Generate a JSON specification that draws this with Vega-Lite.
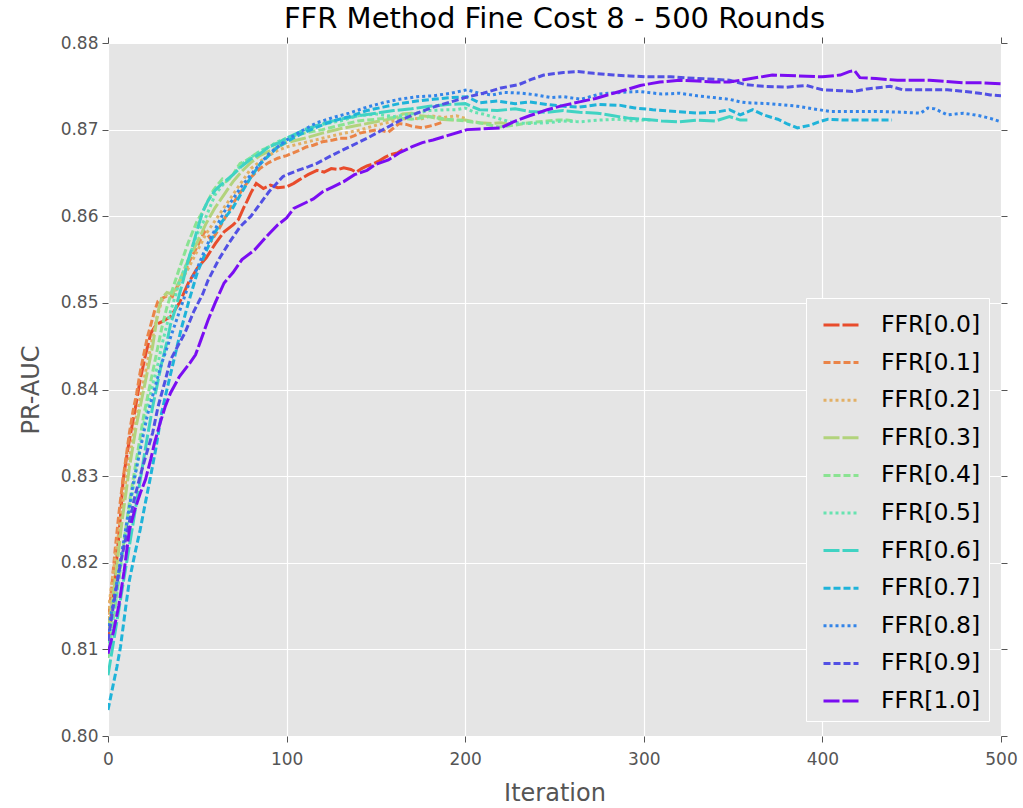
{
"$schema": "https://vega.github.io/schema/vega-lite/v6.json",
"width": 893, "height": 693,
"autosize": {"type": "none"},
"padding": {"left": 108, "top": 43, "right": 22, "bottom": 72},
"background": "white",
"title": {"text": "FFR Method Fine Cost 8 - 500 Rounds", "fontSize": 29, "fontWeight": "normal", "color": "#000000", "anchor": "middle", "offset": 0, "font": "DejaVu Sans"},
"config": {
 "view": {"fill": "#e5e5e5", "stroke": null},
 "font": "DejaVu Sans",
 "axis": {"labelFont": "DejaVu Sans", "labelFontSize": 17, "labelColor": "#555555", "labelFlush": false, "titleFont": "DejaVu Sans", "titleFontSize": 24, "titleColor": "#555555", "titleFontWeight": "normal", "gridColor": "#ffffff", "gridWidth": 1.2, "domain": false, "tickColor": "#555555", "tickSize": 6, "tickWidth": 1},
 "legend": {"orient": "none", "legendX": 698, "legendY": 255, "title": null, "symbolType": "stroke", "symbolSize": 1225, "symbolStrokeWidth": 3, "labelFontSize": 23.5, "labelFont": "DejaVu Sans", "labelColor": "#000000", "padding": 8, "symbolOffset": 8, "fillColor": "#e5e5e5", "strokeColor": "#ffffff", "labelOffset": 21, "rowPadding": 6.6, "symbolOpacity": 1}
},
"data": {"values": [
{"s":"FFR[0.0]","x":0,"y":0.811},{"s":"FFR[0.0]","x":3,"y":0.816},{"s":"FFR[0.0]","x":6.5,"y":0.8241},{"s":"FFR[0.0]","x":8.5,"y":0.8296},{"s":"FFR[0.0]","x":11,"y":0.833},{"s":"FFR[0.0]","x":13,"y":0.8353},{"s":"FFR[0.0]","x":15,"y":0.8375},{"s":"FFR[0.0]","x":18,"y":0.8411},{"s":"FFR[0.0]","x":21,"y":0.844},{"s":"FFR[0.0]","x":24,"y":0.8465},{"s":"FFR[0.0]","x":27,"y":0.8475},{"s":"FFR[0.0]","x":30,"y":0.8478},{"s":"FFR[0.0]","x":35,"y":0.8484},{"s":"FFR[0.0]","x":40,"y":0.85},{"s":"FFR[0.0]","x":45,"y":0.8523},{"s":"FFR[0.0]","x":50,"y":0.854},{"s":"FFR[0.0]","x":55,"y":0.8552},{"s":"FFR[0.0]","x":60,"y":0.8568},{"s":"FFR[0.0]","x":65,"y":0.8582},{"s":"FFR[0.0]","x":70,"y":0.859},{"s":"FFR[0.0]","x":73,"y":0.8596},{"s":"FFR[0.0]","x":76,"y":0.861},{"s":"FFR[0.0]","x":78,"y":0.8618},{"s":"FFR[0.0]","x":80,"y":0.8627},{"s":"FFR[0.0]","x":83,"y":0.8638},{"s":"FFR[0.0]","x":87,"y":0.8632},{"s":"FFR[0.0]","x":91,"y":0.8636},{"s":"FFR[0.0]","x":95,"y":0.8633},{"s":"FFR[0.0]","x":100,"y":0.8634},{"s":"FFR[0.0]","x":104,"y":0.8638},{"s":"FFR[0.0]","x":107,"y":0.8642},{"s":"FFR[0.0]","x":112,"y":0.8648},{"s":"FFR[0.0]","x":117,"y":0.8653},{"s":"FFR[0.0]","x":121,"y":0.8651},{"s":"FFR[0.0]","x":125,"y":0.8655},{"s":"FFR[0.0]","x":129,"y":0.8654},{"s":"FFR[0.0]","x":132,"y":0.8656},{"s":"FFR[0.0]","x":136,"y":0.8654},{"s":"FFR[0.0]","x":139,"y":0.8651},{"s":"FFR[0.0]","x":142,"y":0.8655},{"s":"FFR[0.0]","x":145,"y":0.8658},{"s":"FFR[0.0]","x":148,"y":0.866},{"s":"FFR[0.0]","x":151,"y":0.8663},{"s":"FFR[0.0]","x":155,"y":0.8668},{"s":"FFR[0.0]","x":158,"y":0.8671},{"s":"FFR[0.0]","x":162,"y":0.8673},{"s":"FFR[0.0]","x":165,"y":0.8677},
{"s":"FFR[0.1]","x":0,"y":0.813},{"s":"FFR[0.1]","x":2,"y":0.817},{"s":"FFR[0.1]","x":4,"y":0.8215},{"s":"FFR[0.1]","x":6,"y":0.8255},{"s":"FFR[0.1]","x":8,"y":0.829},{"s":"FFR[0.1]","x":10,"y":0.832},{"s":"FFR[0.1]","x":12,"y":0.835},{"s":"FFR[0.1]","x":14,"y":0.8375},{"s":"FFR[0.1]","x":16,"y":0.8395},{"s":"FFR[0.1]","x":18,"y":0.842},{"s":"FFR[0.1]","x":20,"y":0.844},{"s":"FFR[0.1]","x":22,"y":0.846},{"s":"FFR[0.1]","x":24,"y":0.8475},{"s":"FFR[0.1]","x":26,"y":0.849},{"s":"FFR[0.1]","x":28,"y":0.8502},{"s":"FFR[0.1]","x":30,"y":0.8505},{"s":"FFR[0.1]","x":33,"y":0.8508},{"s":"FFR[0.1]","x":36,"y":0.8507},{"s":"FFR[0.1]","x":38,"y":0.8515},{"s":"FFR[0.1]","x":40,"y":0.8525},{"s":"FFR[0.1]","x":43,"y":0.8535},{"s":"FFR[0.1]","x":46,"y":0.855},{"s":"FFR[0.1]","x":50,"y":0.8565},{"s":"FFR[0.1]","x":54,"y":0.8582},{"s":"FFR[0.1]","x":56,"y":0.8578},{"s":"FFR[0.1]","x":58,"y":0.8572},{"s":"FFR[0.1]","x":62,"y":0.8585},{"s":"FFR[0.1]","x":66,"y":0.86},{"s":"FFR[0.1]","x":70,"y":0.8615},{"s":"FFR[0.1]","x":75,"y":0.863},{"s":"FFR[0.1]","x":80,"y":0.8645},{"s":"FFR[0.1]","x":85,"y":0.8655},{"s":"FFR[0.1]","x":90,"y":0.8662},{"s":"FFR[0.1]","x":95,"y":0.8667},{"s":"FFR[0.1]","x":100,"y":0.867},{"s":"FFR[0.1]","x":107,"y":0.8676},{"s":"FFR[0.1]","x":111,"y":0.868},{"s":"FFR[0.1]","x":115,"y":0.8682},{"s":"FFR[0.1]","x":120,"y":0.8686},{"s":"FFR[0.1]","x":126,"y":0.8688},{"s":"FFR[0.1]","x":130,"y":0.869},{"s":"FFR[0.1]","x":134,"y":0.869},{"s":"FFR[0.1]","x":138,"y":0.8693},{"s":"FFR[0.1]","x":141,"y":0.8696},{"s":"FFR[0.1]","x":146,"y":0.8698},{"s":"FFR[0.1]","x":151,"y":0.87},{"s":"FFR[0.1]","x":157,"y":0.8697},{"s":"FFR[0.1]","x":163,"y":0.8707},{"s":"FFR[0.1]","x":167,"y":0.8706},{"s":"FFR[0.1]","x":170,"y":0.8704},{"s":"FFR[0.1]","x":176,"y":0.8702},{"s":"FFR[0.1]","x":182,"y":0.8705},{"s":"FFR[0.1]","x":188,"y":0.8709},
{"s":"FFR[0.2]","x":0,"y":0.814},{"s":"FFR[0.2]","x":2,"y":0.8175},{"s":"FFR[0.2]","x":4,"y":0.8205},{"s":"FFR[0.2]","x":6,"y":0.8235},{"s":"FFR[0.2]","x":8,"y":0.8265},{"s":"FFR[0.2]","x":10,"y":0.8295},{"s":"FFR[0.2]","x":12,"y":0.832},{"s":"FFR[0.2]","x":14,"y":0.8345},{"s":"FFR[0.2]","x":16,"y":0.837},{"s":"FFR[0.2]","x":18,"y":0.839},{"s":"FFR[0.2]","x":20,"y":0.841},{"s":"FFR[0.2]","x":22,"y":0.843},{"s":"FFR[0.2]","x":24,"y":0.845},{"s":"FFR[0.2]","x":27,"y":0.848},{"s":"FFR[0.2]","x":30,"y":0.8502},{"s":"FFR[0.2]","x":33,"y":0.851},{"s":"FFR[0.2]","x":36,"y":0.8512},{"s":"FFR[0.2]","x":38,"y":0.8515},{"s":"FFR[0.2]","x":40,"y":0.8522},{"s":"FFR[0.2]","x":45,"y":0.854},{"s":"FFR[0.2]","x":50,"y":0.856},{"s":"FFR[0.2]","x":55,"y":0.858},{"s":"FFR[0.2]","x":60,"y":0.8595},{"s":"FFR[0.2]","x":65,"y":0.861},{"s":"FFR[0.2]","x":70,"y":0.8625},{"s":"FFR[0.2]","x":75,"y":0.864},{"s":"FFR[0.2]","x":80,"y":0.8655},{"s":"FFR[0.2]","x":85,"y":0.8663},{"s":"FFR[0.2]","x":90,"y":0.867},{"s":"FFR[0.2]","x":95,"y":0.8676},{"s":"FFR[0.2]","x":100,"y":0.868},{"s":"FFR[0.2]","x":110,"y":0.8685},{"s":"FFR[0.2]","x":120,"y":0.869},{"s":"FFR[0.2]","x":130,"y":0.8695},{"s":"FFR[0.2]","x":140,"y":0.8699},{"s":"FFR[0.2]","x":150,"y":0.8705},{"s":"FFR[0.2]","x":160,"y":0.871},{"s":"FFR[0.2]","x":170,"y":0.8714},{"s":"FFR[0.2]","x":175,"y":0.8712},{"s":"FFR[0.2]","x":180,"y":0.8716},{"s":"FFR[0.2]","x":188,"y":0.8714},{"s":"FFR[0.2]","x":195,"y":0.8716},{"s":"FFR[0.2]","x":200,"y":0.8713},
{"s":"FFR[0.3]","x":0,"y":0.812},{"s":"FFR[0.3]","x":2,"y":0.815},{"s":"FFR[0.3]","x":4,"y":0.818},{"s":"FFR[0.3]","x":6,"y":0.8215},{"s":"FFR[0.3]","x":8,"y":0.825},{"s":"FFR[0.3]","x":10,"y":0.828},{"s":"FFR[0.3]","x":12,"y":0.831},{"s":"FFR[0.3]","x":14,"y":0.8335},{"s":"FFR[0.3]","x":16,"y":0.836},{"s":"FFR[0.3]","x":18,"y":0.838},{"s":"FFR[0.3]","x":20,"y":0.84},{"s":"FFR[0.3]","x":22,"y":0.842},{"s":"FFR[0.3]","x":25,"y":0.845},{"s":"FFR[0.3]","x":28,"y":0.849},{"s":"FFR[0.3]","x":30,"y":0.8505},{"s":"FFR[0.3]","x":33,"y":0.8512},{"s":"FFR[0.3]","x":36,"y":0.851},{"s":"FFR[0.3]","x":40,"y":0.8525},{"s":"FFR[0.3]","x":45,"y":0.855},{"s":"FFR[0.3]","x":50,"y":0.857},{"s":"FFR[0.3]","x":55,"y":0.8592},{"s":"FFR[0.3]","x":60,"y":0.861},{"s":"FFR[0.3]","x":65,"y":0.8625},{"s":"FFR[0.3]","x":70,"y":0.864},{"s":"FFR[0.3]","x":75,"y":0.8652},{"s":"FFR[0.3]","x":80,"y":0.8662},{"s":"FFR[0.3]","x":85,"y":0.867},{"s":"FFR[0.3]","x":90,"y":0.8675},{"s":"FFR[0.3]","x":100,"y":0.8685},{"s":"FFR[0.3]","x":110,"y":0.869},{"s":"FFR[0.3]","x":120,"y":0.8696},{"s":"FFR[0.3]","x":130,"y":0.8701},{"s":"FFR[0.3]","x":140,"y":0.8705},{"s":"FFR[0.3]","x":150,"y":0.8709},{"s":"FFR[0.3]","x":160,"y":0.8713},{"s":"FFR[0.3]","x":165,"y":0.8718},{"s":"FFR[0.3]","x":170,"y":0.8719},{"s":"FFR[0.3]","x":175,"y":0.8716},{"s":"FFR[0.3]","x":180,"y":0.8715},{"s":"FFR[0.3]","x":186,"y":0.8712},{"s":"FFR[0.3]","x":192,"y":0.8711},{"s":"FFR[0.3]","x":200,"y":0.8711},{"s":"FFR[0.3]","x":208,"y":0.8708},{"s":"FFR[0.3]","x":215,"y":0.8707},{"s":"FFR[0.3]","x":220,"y":0.8708},{"s":"FFR[0.3]","x":225,"y":0.8706},
{"s":"FFR[0.4]","x":0,"y":0.809},{"s":"FFR[0.4]","x":2,"y":0.812},{"s":"FFR[0.4]","x":4,"y":0.815},{"s":"FFR[0.4]","x":6,"y":0.818},{"s":"FFR[0.4]","x":8,"y":0.821},{"s":"FFR[0.4]","x":10,"y":0.824},{"s":"FFR[0.4]","x":12,"y":0.827},{"s":"FFR[0.4]","x":14,"y":0.8295},{"s":"FFR[0.4]","x":16,"y":0.832},{"s":"FFR[0.4]","x":18,"y":0.8345},{"s":"FFR[0.4]","x":20,"y":0.837},{"s":"FFR[0.4]","x":22,"y":0.839},{"s":"FFR[0.4]","x":25,"y":0.842},{"s":"FFR[0.4]","x":28,"y":0.845},{"s":"FFR[0.4]","x":30,"y":0.847},{"s":"FFR[0.4]","x":33,"y":0.8495},{"s":"FFR[0.4]","x":36,"y":0.8515},{"s":"FFR[0.4]","x":40,"y":0.854},{"s":"FFR[0.4]","x":45,"y":0.857},{"s":"FFR[0.4]","x":50,"y":0.8595},{"s":"FFR[0.4]","x":53,"y":0.8605},{"s":"FFR[0.4]","x":56,"y":0.8618},{"s":"FFR[0.4]","x":59,"y":0.863},{"s":"FFR[0.4]","x":62,"y":0.8638},{"s":"FFR[0.4]","x":64,"y":0.8643},{"s":"FFR[0.4]","x":66,"y":0.864},{"s":"FFR[0.4]","x":68,"y":0.8643},{"s":"FFR[0.4]","x":70,"y":0.8648},{"s":"FFR[0.4]","x":72,"y":0.8655},{"s":"FFR[0.4]","x":74,"y":0.8661},{"s":"FFR[0.4]","x":78,"y":0.8665},{"s":"FFR[0.4]","x":82,"y":0.8671},{"s":"FFR[0.4]","x":86,"y":0.8676},{"s":"FFR[0.4]","x":90,"y":0.868},{"s":"FFR[0.4]","x":95,"y":0.8685},{"s":"FFR[0.4]","x":100,"y":0.869},{"s":"FFR[0.4]","x":105,"y":0.8693},{"s":"FFR[0.4]","x":110,"y":0.8696},{"s":"FFR[0.4]","x":115,"y":0.8698},{"s":"FFR[0.4]","x":120,"y":0.87},{"s":"FFR[0.4]","x":130,"y":0.8705},{"s":"FFR[0.4]","x":140,"y":0.871},{"s":"FFR[0.4]","x":150,"y":0.8712},{"s":"FFR[0.4]","x":160,"y":0.8714},{"s":"FFR[0.4]","x":170,"y":0.8712},{"s":"FFR[0.4]","x":180,"y":0.8715},{"s":"FFR[0.4]","x":190,"y":0.8712},{"s":"FFR[0.4]","x":200,"y":0.871},{"s":"FFR[0.4]","x":210,"y":0.8707},{"s":"FFR[0.4]","x":219,"y":0.8703},{"s":"FFR[0.4]","x":227,"y":0.8705},{"s":"FFR[0.4]","x":236,"y":0.8708},{"s":"FFR[0.4]","x":246,"y":0.871},{"s":"FFR[0.4]","x":252,"y":0.8711},{"s":"FFR[0.4]","x":257,"y":0.8711},{"s":"FFR[0.4]","x":262,"y":0.871},
{"s":"FFR[0.5]","x":0,"y":0.81},{"s":"FFR[0.5]","x":2,"y":0.8125},{"s":"FFR[0.5]","x":4,"y":0.815},{"s":"FFR[0.5]","x":6,"y":0.818},{"s":"FFR[0.5]","x":8,"y":0.821},{"s":"FFR[0.5]","x":10,"y":0.8235},{"s":"FFR[0.5]","x":12,"y":0.826},{"s":"FFR[0.5]","x":14,"y":0.8285},{"s":"FFR[0.5]","x":16,"y":0.831},{"s":"FFR[0.5]","x":18,"y":0.8335},{"s":"FFR[0.5]","x":20,"y":0.836},{"s":"FFR[0.5]","x":22,"y":0.838},{"s":"FFR[0.5]","x":25,"y":0.8405},{"s":"FFR[0.5]","x":28,"y":0.843},{"s":"FFR[0.5]","x":30,"y":0.845},{"s":"FFR[0.5]","x":33,"y":0.8475},{"s":"FFR[0.5]","x":35,"y":0.849},{"s":"FFR[0.5]","x":38,"y":0.851},{"s":"FFR[0.5]","x":40,"y":0.8525},{"s":"FFR[0.5]","x":45,"y":0.855},{"s":"FFR[0.5]","x":50,"y":0.858},{"s":"FFR[0.5]","x":55,"y":0.86},{"s":"FFR[0.5]","x":60,"y":0.8625},{"s":"FFR[0.5]","x":65,"y":0.8638},{"s":"FFR[0.5]","x":70,"y":0.8648},{"s":"FFR[0.5]","x":75,"y":0.866},{"s":"FFR[0.5]","x":80,"y":0.8668},{"s":"FFR[0.5]","x":85,"y":0.8675},{"s":"FFR[0.5]","x":90,"y":0.868},{"s":"FFR[0.5]","x":95,"y":0.8686},{"s":"FFR[0.5]","x":100,"y":0.869},{"s":"FFR[0.5]","x":110,"y":0.8698},{"s":"FFR[0.5]","x":120,"y":0.8706},{"s":"FFR[0.5]","x":130,"y":0.871},{"s":"FFR[0.5]","x":140,"y":0.8716},{"s":"FFR[0.5]","x":150,"y":0.8718},{"s":"FFR[0.5]","x":160,"y":0.8715},{"s":"FFR[0.5]","x":170,"y":0.8718},{"s":"FFR[0.5]","x":180,"y":0.8722},{"s":"FFR[0.5]","x":190,"y":0.8723},{"s":"FFR[0.5]","x":195,"y":0.8723},{"s":"FFR[0.5]","x":200,"y":0.8725},{"s":"FFR[0.5]","x":205,"y":0.872},{"s":"FFR[0.5]","x":210,"y":0.8718},{"s":"FFR[0.5]","x":215,"y":0.8715},{"s":"FFR[0.5]","x":220,"y":0.8712},{"s":"FFR[0.5]","x":227,"y":0.8708},{"s":"FFR[0.5]","x":236,"y":0.8707},{"s":"FFR[0.5]","x":246,"y":0.8708},{"s":"FFR[0.5]","x":255,"y":0.871},{"s":"FFR[0.5]","x":264,"y":0.8709},{"s":"FFR[0.5]","x":275,"y":0.8711},{"s":"FFR[0.5]","x":285,"y":0.8712},{"s":"FFR[0.5]","x":295,"y":0.871},{"s":"FFR[0.5]","x":300,"y":0.8711},{"s":"FFR[0.5]","x":305,"y":0.8711},
{"s":"FFR[0.6]","x":0,"y":0.807},{"s":"FFR[0.6]","x":2,"y":0.8095},{"s":"FFR[0.6]","x":4,"y":0.812},{"s":"FFR[0.6]","x":6,"y":0.8145},{"s":"FFR[0.6]","x":8,"y":0.817},{"s":"FFR[0.6]","x":10,"y":0.8195},{"s":"FFR[0.6]","x":12,"y":0.822},{"s":"FFR[0.6]","x":14,"y":0.8245},{"s":"FFR[0.6]","x":16,"y":0.827},{"s":"FFR[0.6]","x":18,"y":0.8295},{"s":"FFR[0.6]","x":20,"y":0.832},{"s":"FFR[0.6]","x":22,"y":0.8345},{"s":"FFR[0.6]","x":25,"y":0.838},{"s":"FFR[0.6]","x":28,"y":0.841},{"s":"FFR[0.6]","x":30,"y":0.843},{"s":"FFR[0.6]","x":33,"y":0.8455},{"s":"FFR[0.6]","x":35,"y":0.8475},{"s":"FFR[0.6]","x":38,"y":0.8495},{"s":"FFR[0.6]","x":40,"y":0.851},{"s":"FFR[0.6]","x":42,"y":0.8525},{"s":"FFR[0.6]","x":45,"y":0.855},{"s":"FFR[0.6]","x":48,"y":0.857},{"s":"FFR[0.6]","x":50,"y":0.8585},{"s":"FFR[0.6]","x":53,"y":0.8605},{"s":"FFR[0.6]","x":56,"y":0.8618},{"s":"FFR[0.6]","x":60,"y":0.863},{"s":"FFR[0.6]","x":63,"y":0.8636},{"s":"FFR[0.6]","x":66,"y":0.8641},{"s":"FFR[0.6]","x":70,"y":0.8648},{"s":"FFR[0.6]","x":75,"y":0.8658},{"s":"FFR[0.6]","x":80,"y":0.8666},{"s":"FFR[0.6]","x":85,"y":0.8672},{"s":"FFR[0.6]","x":90,"y":0.868},{"s":"FFR[0.6]","x":95,"y":0.8684},{"s":"FFR[0.6]","x":100,"y":0.869},{"s":"FFR[0.6]","x":110,"y":0.87},{"s":"FFR[0.6]","x":120,"y":0.8707},{"s":"FFR[0.6]","x":130,"y":0.8712},{"s":"FFR[0.6]","x":140,"y":0.8716},{"s":"FFR[0.6]","x":150,"y":0.8719},{"s":"FFR[0.6]","x":160,"y":0.8722},{"s":"FFR[0.6]","x":170,"y":0.8724},{"s":"FFR[0.6]","x":180,"y":0.8727},{"s":"FFR[0.6]","x":190,"y":0.8729},{"s":"FFR[0.6]","x":200,"y":0.873},{"s":"FFR[0.6]","x":208,"y":0.8723},{"s":"FFR[0.6]","x":218,"y":0.8722},{"s":"FFR[0.6]","x":228,"y":0.8724},{"s":"FFR[0.6]","x":236,"y":0.8721},{"s":"FFR[0.6]","x":246,"y":0.872},{"s":"FFR[0.6]","x":255,"y":0.8722},{"s":"FFR[0.6]","x":264,"y":0.872},{"s":"FFR[0.6]","x":274,"y":0.8719},{"s":"FFR[0.6]","x":283,"y":0.8716},{"s":"FFR[0.6]","x":292,"y":0.8713},{"s":"FFR[0.6]","x":300,"y":0.8712},{"s":"FFR[0.6]","x":310,"y":0.871},{"s":"FFR[0.6]","x":320,"y":0.8709},{"s":"FFR[0.6]","x":330,"y":0.8711},{"s":"FFR[0.6]","x":340,"y":0.871},{"s":"FFR[0.6]","x":348,"y":0.8715},{"s":"FFR[0.6]","x":354,"y":0.8711},{"s":"FFR[0.6]","x":358,"y":0.8711},
{"s":"FFR[0.7]","x":0,"y":0.803},{"s":"FFR[0.7]","x":3,"y":0.806},{"s":"FFR[0.7]","x":5,"y":0.808},{"s":"FFR[0.7]","x":7,"y":0.8103},{"s":"FFR[0.7]","x":10,"y":0.815},{"s":"FFR[0.7]","x":12,"y":0.818},{"s":"FFR[0.7]","x":15,"y":0.821},{"s":"FFR[0.7]","x":18,"y":0.8238},{"s":"FFR[0.7]","x":21,"y":0.827},{"s":"FFR[0.7]","x":23.5,"y":0.8296},{"s":"FFR[0.7]","x":27,"y":0.8334},{"s":"FFR[0.7]","x":30,"y":0.8373},{"s":"FFR[0.7]","x":33,"y":0.84},{"s":"FFR[0.7]","x":37,"y":0.8435},{"s":"FFR[0.7]","x":41,"y":0.847},{"s":"FFR[0.7]","x":45,"y":0.85},{"s":"FFR[0.7]","x":50,"y":0.8535},{"s":"FFR[0.7]","x":55,"y":0.856},{"s":"FFR[0.7]","x":60,"y":0.8582},{"s":"FFR[0.7]","x":65,"y":0.8597},{"s":"FFR[0.7]","x":70,"y":0.861},{"s":"FFR[0.7]","x":75,"y":0.8628},{"s":"FFR[0.7]","x":80,"y":0.8645},{"s":"FFR[0.7]","x":85,"y":0.866},{"s":"FFR[0.7]","x":90,"y":0.867},{"s":"FFR[0.7]","x":95,"y":0.868},{"s":"FFR[0.7]","x":100,"y":0.8686},{"s":"FFR[0.7]","x":108,"y":0.8695},{"s":"FFR[0.7]","x":117,"y":0.8703},{"s":"FFR[0.7]","x":126,"y":0.871},{"s":"FFR[0.7]","x":135,"y":0.8715},{"s":"FFR[0.7]","x":145,"y":0.8722},{"s":"FFR[0.7]","x":154,"y":0.8726},{"s":"FFR[0.7]","x":163,"y":0.873},{"s":"FFR[0.7]","x":173,"y":0.8733},{"s":"FFR[0.7]","x":182,"y":0.8735},{"s":"FFR[0.7]","x":192,"y":0.8737},{"s":"FFR[0.7]","x":201,"y":0.8738},{"s":"FFR[0.7]","x":208,"y":0.8731},{"s":"FFR[0.7]","x":218,"y":0.8733},{"s":"FFR[0.7]","x":228,"y":0.873},{"s":"FFR[0.7]","x":236,"y":0.8732},{"s":"FFR[0.7]","x":246,"y":0.8729},{"s":"FFR[0.7]","x":255,"y":0.8727},{"s":"FFR[0.7]","x":264,"y":0.8726},{"s":"FFR[0.7]","x":275,"y":0.8729},{"s":"FFR[0.7]","x":287,"y":0.8728},{"s":"FFR[0.7]","x":295,"y":0.8725},{"s":"FFR[0.7]","x":305,"y":0.8723},{"s":"FFR[0.7]","x":318,"y":0.8721},{"s":"FFR[0.7]","x":330,"y":0.8719},{"s":"FFR[0.7]","x":340,"y":0.872},{"s":"FFR[0.7]","x":348,"y":0.8723},{"s":"FFR[0.7]","x":354,"y":0.8717},{"s":"FFR[0.7]","x":361,"y":0.8723},{"s":"FFR[0.7]","x":367,"y":0.8717},{"s":"FFR[0.7]","x":375,"y":0.8712},{"s":"FFR[0.7]","x":380,"y":0.8707},{"s":"FFR[0.7]","x":386,"y":0.8702},{"s":"FFR[0.7]","x":393,"y":0.8705},{"s":"FFR[0.7]","x":398,"y":0.8709},{"s":"FFR[0.7]","x":403,"y":0.8712},{"s":"FFR[0.7]","x":413,"y":0.8711},{"s":"FFR[0.7]","x":423,"y":0.8711},{"s":"FFR[0.7]","x":432,"y":0.8711},{"s":"FFR[0.7]","x":439,"y":0.8711},
{"s":"FFR[0.8]","x":0,"y":0.812},{"s":"FFR[0.8]","x":3,"y":0.8155},{"s":"FFR[0.8]","x":6,"y":0.819},{"s":"FFR[0.8]","x":10,"y":0.824},{"s":"FFR[0.8]","x":14,"y":0.829},{"s":"FFR[0.8]","x":18,"y":0.833},{"s":"FFR[0.8]","x":22,"y":0.837},{"s":"FFR[0.8]","x":26,"y":0.84},{"s":"FFR[0.8]","x":30,"y":0.843},{"s":"FFR[0.8]","x":35,"y":0.846},{"s":"FFR[0.8]","x":40,"y":0.849},{"s":"FFR[0.8]","x":45,"y":0.852},{"s":"FFR[0.8]","x":50,"y":0.854},{"s":"FFR[0.8]","x":55,"y":0.8565},{"s":"FFR[0.8]","x":60,"y":0.8585},{"s":"FFR[0.8]","x":65,"y":0.8605},{"s":"FFR[0.8]","x":70,"y":0.862},{"s":"FFR[0.8]","x":75,"y":0.8635},{"s":"FFR[0.8]","x":80,"y":0.8648},{"s":"FFR[0.8]","x":85,"y":0.866},{"s":"FFR[0.8]","x":90,"y":0.8672},{"s":"FFR[0.8]","x":95,"y":0.868},{"s":"FFR[0.8]","x":100,"y":0.8688},{"s":"FFR[0.8]","x":108,"y":0.8698},{"s":"FFR[0.8]","x":117,"y":0.8708},{"s":"FFR[0.8]","x":126,"y":0.8714},{"s":"FFR[0.8]","x":135,"y":0.8719},{"s":"FFR[0.8]","x":145,"y":0.8726},{"s":"FFR[0.8]","x":154,"y":0.8731},{"s":"FFR[0.8]","x":163,"y":0.8735},{"s":"FFR[0.8]","x":173,"y":0.8738},{"s":"FFR[0.8]","x":182,"y":0.8739},{"s":"FFR[0.8]","x":192,"y":0.8742},{"s":"FFR[0.8]","x":201,"y":0.8746},{"s":"FFR[0.8]","x":208,"y":0.8742},{"s":"FFR[0.8]","x":215,"y":0.874},{"s":"FFR[0.8]","x":222,"y":0.8743},{"s":"FFR[0.8]","x":232,"y":0.8742},{"s":"FFR[0.8]","x":240,"y":0.874},{"s":"FFR[0.8]","x":248,"y":0.8737},{"s":"FFR[0.8]","x":255,"y":0.8738},{"s":"FFR[0.8]","x":265,"y":0.8735},{"s":"FFR[0.8]","x":275,"y":0.8741},{"s":"FFR[0.8]","x":287,"y":0.8743},{"s":"FFR[0.8]","x":298,"y":0.8744},{"s":"FFR[0.8]","x":310,"y":0.8741},{"s":"FFR[0.8]","x":320,"y":0.8742},{"s":"FFR[0.8]","x":330,"y":0.8739},{"s":"FFR[0.8]","x":339,"y":0.8737},{"s":"FFR[0.8]","x":348,"y":0.8735},{"s":"FFR[0.8]","x":354,"y":0.8732},{"s":"FFR[0.8]","x":358,"y":0.8731},{"s":"FFR[0.8]","x":370,"y":0.873},{"s":"FFR[0.8]","x":386,"y":0.8727},{"s":"FFR[0.8]","x":395,"y":0.8724},{"s":"FFR[0.8]","x":404,"y":0.8721},{"s":"FFR[0.8]","x":420,"y":0.8721},{"s":"FFR[0.8]","x":432,"y":0.8721},{"s":"FFR[0.8]","x":445,"y":0.872},{"s":"FFR[0.8]","x":455,"y":0.8719},{"s":"FFR[0.8]","x":459,"y":0.8725},{"s":"FFR[0.8]","x":463,"y":0.8724},{"s":"FFR[0.8]","x":470,"y":0.8717},{"s":"FFR[0.8]","x":479,"y":0.8719},{"s":"FFR[0.8]","x":488,"y":0.8716},{"s":"FFR[0.8]","x":494,"y":0.8713},{"s":"FFR[0.8]","x":500,"y":0.8709},
{"s":"FFR[0.9]","x":0,"y":0.811},{"s":"FFR[0.9]","x":3,"y":0.815},{"s":"FFR[0.9]","x":7,"y":0.82},{"s":"FFR[0.9]","x":11,"y":0.8238},{"s":"FFR[0.9]","x":15,"y":0.8276},{"s":"FFR[0.9]","x":18,"y":0.83},{"s":"FFR[0.9]","x":21,"y":0.8322},{"s":"FFR[0.9]","x":25,"y":0.835},{"s":"FFR[0.9]","x":28,"y":0.838},{"s":"FFR[0.9]","x":32,"y":0.841},{"s":"FFR[0.9]","x":35,"y":0.8434},{"s":"FFR[0.9]","x":39,"y":0.845},{"s":"FFR[0.9]","x":43,"y":0.8465},{"s":"FFR[0.9]","x":48,"y":0.849},{"s":"FFR[0.9]","x":53,"y":0.851},{"s":"FFR[0.9]","x":56,"y":0.8526},{"s":"FFR[0.9]","x":62,"y":0.855},{"s":"FFR[0.9]","x":68,"y":0.857},{"s":"FFR[0.9]","x":74,"y":0.8588},{"s":"FFR[0.9]","x":80,"y":0.86},{"s":"FFR[0.9]","x":84,"y":0.8611},{"s":"FFR[0.9]","x":90,"y":0.8628},{"s":"FFR[0.9]","x":98,"y":0.8646},{"s":"FFR[0.9]","x":105,"y":0.8652},{"s":"FFR[0.9]","x":112,"y":0.8657},{"s":"FFR[0.9]","x":117,"y":0.8661},{"s":"FFR[0.9]","x":125,"y":0.867},{"s":"FFR[0.9]","x":135,"y":0.868},{"s":"FFR[0.9]","x":145,"y":0.869},{"s":"FFR[0.9]","x":154,"y":0.87},{"s":"FFR[0.9]","x":163,"y":0.871},{"s":"FFR[0.9]","x":173,"y":0.8719},{"s":"FFR[0.9]","x":182,"y":0.8726},{"s":"FFR[0.9]","x":192,"y":0.8732},{"s":"FFR[0.9]","x":200,"y":0.8737},{"s":"FFR[0.9]","x":210,"y":0.8742},{"s":"FFR[0.9]","x":220,"y":0.8748},{"s":"FFR[0.9]","x":230,"y":0.8752},{"s":"FFR[0.9]","x":237,"y":0.8758},{"s":"FFR[0.9]","x":244,"y":0.8763},{"s":"FFR[0.9]","x":255,"y":0.8766},{"s":"FFR[0.9]","x":263,"y":0.8767},{"s":"FFR[0.9]","x":272,"y":0.8765},{"s":"FFR[0.9]","x":283,"y":0.8763},{"s":"FFR[0.9]","x":292,"y":0.8762},{"s":"FFR[0.9]","x":302,"y":0.8761},{"s":"FFR[0.9]","x":315,"y":0.8761},{"s":"FFR[0.9]","x":330,"y":0.8759},{"s":"FFR[0.9]","x":340,"y":0.8758},{"s":"FFR[0.9]","x":348,"y":0.8757},{"s":"FFR[0.9]","x":357,"y":0.8752},{"s":"FFR[0.9]","x":367,"y":0.875},{"s":"FFR[0.9]","x":380,"y":0.8749},{"s":"FFR[0.9]","x":391,"y":0.8751},{"s":"FFR[0.9]","x":400,"y":0.8746},{"s":"FFR[0.9]","x":410,"y":0.8745},{"s":"FFR[0.9]","x":417,"y":0.8744},{"s":"FFR[0.9]","x":425,"y":0.8747},{"s":"FFR[0.9]","x":438,"y":0.875},{"s":"FFR[0.9]","x":445,"y":0.8746},{"s":"FFR[0.9]","x":458,"y":0.8746},{"s":"FFR[0.9]","x":470,"y":0.8746},{"s":"FFR[0.9]","x":480,"y":0.8744},{"s":"FFR[0.9]","x":488,"y":0.8742},{"s":"FFR[0.9]","x":494,"y":0.874},{"s":"FFR[0.9]","x":500,"y":0.8739},
{"s":"FFR[1.0]","x":0,"y":0.8095},{"s":"FFR[1.0]","x":3,"y":0.812},{"s":"FFR[1.0]","x":6,"y":0.815},{"s":"FFR[1.0]","x":9,"y":0.819},{"s":"FFR[1.0]","x":12,"y":0.8238},{"s":"FFR[1.0]","x":15,"y":0.8261},{"s":"FFR[1.0]","x":18,"y":0.828},{"s":"FFR[1.0]","x":21,"y":0.8296},{"s":"FFR[1.0]","x":24,"y":0.832},{"s":"FFR[1.0]","x":26,"y":0.8338},{"s":"FFR[1.0]","x":29,"y":0.836},{"s":"FFR[1.0]","x":32,"y":0.838},{"s":"FFR[1.0]","x":35,"y":0.8396},{"s":"FFR[1.0]","x":40,"y":0.8415},{"s":"FFR[1.0]","x":46,"y":0.8431},{"s":"FFR[1.0]","x":49,"y":0.844},{"s":"FFR[1.0]","x":52,"y":0.8457},{"s":"FFR[1.0]","x":56,"y":0.848},{"s":"FFR[1.0]","x":60,"y":0.85},{"s":"FFR[1.0]","x":65,"y":0.8523},{"s":"FFR[1.0]","x":70,"y":0.8535},{"s":"FFR[1.0]","x":75,"y":0.855},{"s":"FFR[1.0]","x":82,"y":0.8561},{"s":"FFR[1.0]","x":88,"y":0.8575},{"s":"FFR[1.0]","x":95,"y":0.859},{"s":"FFR[1.0]","x":100,"y":0.8598},{"s":"FFR[1.0]","x":104,"y":0.8609},{"s":"FFR[1.0]","x":110,"y":0.8615},{"s":"FFR[1.0]","x":115,"y":0.862},{"s":"FFR[1.0]","x":120,"y":0.8628},{"s":"FFR[1.0]","x":126,"y":0.8634},{"s":"FFR[1.0]","x":132,"y":0.864},{"s":"FFR[1.0]","x":138,"y":0.8648},{"s":"FFR[1.0]","x":145,"y":0.8653},{"s":"FFR[1.0]","x":150,"y":0.866},{"s":"FFR[1.0]","x":157,"y":0.8665},{"s":"FFR[1.0]","x":163,"y":0.8673},{"s":"FFR[1.0]","x":170,"y":0.868},{"s":"FFR[1.0]","x":176,"y":0.8685},{"s":"FFR[1.0]","x":182,"y":0.8688},{"s":"FFR[1.0]","x":190,"y":0.8693},{"s":"FFR[1.0]","x":201,"y":0.87},{"s":"FFR[1.0]","x":210,"y":0.8701},{"s":"FFR[1.0]","x":220,"y":0.8702},{"s":"FFR[1.0]","x":227,"y":0.8709},{"s":"FFR[1.0]","x":236,"y":0.8716},{"s":"FFR[1.0]","x":246,"y":0.8723},{"s":"FFR[1.0]","x":255,"y":0.8728},{"s":"FFR[1.0]","x":264,"y":0.8732},{"s":"FFR[1.0]","x":273,"y":0.8736},{"s":"FFR[1.0]","x":283,"y":0.8742},{"s":"FFR[1.0]","x":290,"y":0.8746},{"s":"FFR[1.0]","x":298,"y":0.8751},{"s":"FFR[1.0]","x":309,"y":0.8755},{"s":"FFR[1.0]","x":320,"y":0.8757},{"s":"FFR[1.0]","x":330,"y":0.8756},{"s":"FFR[1.0]","x":339,"y":0.8755},{"s":"FFR[1.0]","x":348,"y":0.8755},{"s":"FFR[1.0]","x":360,"y":0.8759},{"s":"FFR[1.0]","x":372,"y":0.8763},{"s":"FFR[1.0]","x":386,"y":0.8762},{"s":"FFR[1.0]","x":400,"y":0.8761},{"s":"FFR[1.0]","x":410,"y":0.8763},{"s":"FFR[1.0]","x":415,"y":0.8767},{"s":"FFR[1.0]","x":418,"y":0.8768},{"s":"FFR[1.0]","x":421,"y":0.876},{"s":"FFR[1.0]","x":430,"y":0.8759},{"s":"FFR[1.0]","x":442,"y":0.8757},{"s":"FFR[1.0]","x":460,"y":0.8757},{"s":"FFR[1.0]","x":479,"y":0.8754},{"s":"FFR[1.0]","x":490,"y":0.8754},{"s":"FFR[1.0]","x":500,"y":0.8753}
]},
"layer": [
 {
  "mark": {"type": "line", "strokeWidth": 3, "strokeCap": "butt", "clip": true},
  "encoding": {
   "x": {"field": "x", "type": "quantitative", "scale": {"domain": [0, 500], "nice": false, "zero": false}, "axis": {"values": [0, 100, 200, 300, 400, 500], "title": "Iteration", "labelPadding": 9, "titlePadding": 14}},
   "y": {"field": "y", "type": "quantitative", "scale": {"domain": [0.8, 0.88], "nice": false, "zero": false}, "axis": {"values": [0.8, 0.81, 0.82, 0.83, 0.84, 0.85, 0.86, 0.87, 0.88], "format": ".2f", "title": "PR-AUC", "labelPadding": 4, "titlePadding": 17}},
   "color": {"field": "s", "type": "nominal", "scale": {"domain": ["FFR[0.0]", "FFR[0.1]", "FFR[0.2]", "FFR[0.3]", "FFR[0.4]", "FFR[0.5]", "FFR[0.6]", "FFR[0.7]", "FFR[0.8]", "FFR[0.9]", "FFR[1.0]"], "range": ["#e84c2c", "#ea8448", "#e2b066", "#b2d37c", "#8ae392", "#66e3b0", "#40d3c3", "#1fb3d9", "#3384e8", "#5250e4", "#7a0df2"]}, "legend": {"title": null}},
   "strokeDash": {"field": "s", "type": "nominal", "scale": {"domain": ["FFR[0.0]", "FFR[0.1]", "FFR[0.2]", "FFR[0.3]", "FFR[0.4]", "FFR[0.5]", "FFR[0.6]", "FFR[0.7]", "FFR[0.8]", "FFR[0.9]", "FFR[1.0]"], "range": [[16, 3], [7, 3], [3, 3], [16, 3], [7, 3], [3, 3], [16, 3], [7, 3], [3, 3], [7, 3], [16, 3]]}, "legend": {"title": null}}
  }
 },
 {
  "mark": {"type": "point", "opacity": 0},
  "encoding": {
   "x": {"field": "x", "type": "quantitative", "scale": {"domain": [0, 500], "nice": false, "zero": false}, "axis": {"orient": "top", "values": [0, 100, 200, 300, 400, 500], "labels": false, "grid": false, "title": null}},
   "y": {"field": "y", "type": "quantitative", "scale": {"domain": [0.8, 0.88], "nice": false, "zero": false}, "axis": {"orient": "right", "values": [0.8, 0.81, 0.82, 0.83, 0.84, 0.85, 0.86, 0.87, 0.88], "labels": false, "grid": false, "title": null}}
  }
 }
],
"resolve": {"axis": {"x": "independent", "y": "independent"}}
}
